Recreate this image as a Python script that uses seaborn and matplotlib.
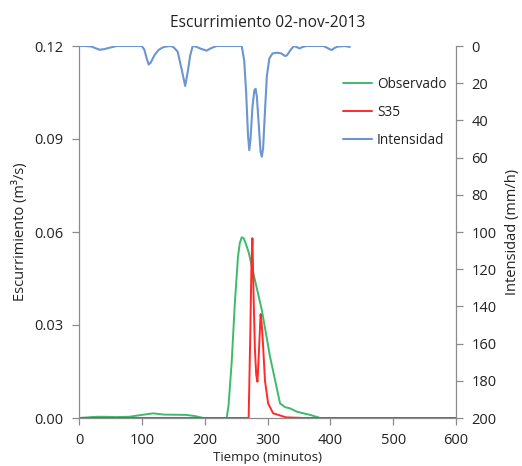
import matplotlib
matplotlib.use("Agg")
import matplotlib.pyplot as plt
import seaborn as sns
import pandas as pd

# ---- data ----
obs_t = [0, 28, 40, 60, 80, 100, 118, 135, 171, 185, 198, 235, 238, 243, 248, 253, 256, 259, 262, 265, 270,
         277.5, 291, 304, 320, 328, 336, 347, 368, 384, 600]
obs_q = [0, 0.0004, 0.0004, 0.0003, 0.0004, 0.0010, 0.0015, 0.0011, 0.0010, 0.0006, 0.0, 0.0, 0.004, 0.018,
         0.037, 0.052, 0.0565, 0.0583, 0.058, 0.0565, 0.0535,
         0.0467, 0.0348, 0.0198, 0.0047, 0.0035, 0.0031, 0.0020, 0.0010, 0.0, 0.0]

s35_t = [0, 270, 272.6, 274.5, 276, 278, 280, 282, 284, 286.5, 289, 290.5, 292.5, 296, 301, 309, 330, 360, 600]
s35_q = [0, 0.0, 0.027, 0.050, 0.058, 0.038, 0.022, 0.014, 0.0117, 0.022, 0.0335, 0.031, 0.025, 0.012,
         0.0047, 0.0015, 0.0002, 0.0, 0.0]

int_t = [0, 10, 20, 27, 33, 40, 50, 60, 80, 100, 104, 108, 111, 114, 120, 127, 135, 145, 150, 157, 163,
         169, 173, 177, 181, 186, 194, 203, 210, 219, 240, 259, 263, 266, 269, 271, 273, 276, 279, 281,
         283, 286, 289, 291, 293, 296, 299, 303, 308, 315, 322, 328, 331, 337, 342, 346, 351, 356, 362,
         389, 395, 402, 407, 412, 423, 431]
int_v = [0, 0, 0.3, 1.3, 2, 1.7, 0.8, 0, 0, 0, 2, 7, 10, 9, 5, 2, 0.5, 0, 0.5, 3, 12,
         21.5, 14, 5, 0, 0.3, 1.5, 2.5, 1.2, 0, 0, 0, 8, 25, 48, 56, 50, 33, 24, 23,
         27, 42, 57, 59.5, 55, 35, 16, 6.6, 4, 3.6, 4, 5.4, 5, 2, 0, 0.5, 1.3, 0.5, 0,
         0, 1, 2.2, 1, 0.3, 0, 0.5]

x_ticks = [0, 100, 200, 300, 400, 500, 600]
y_ticks = [0.00, 0.03, 0.06, 0.09, 0.12]
y2_ticks = [0, 20, 40, 60, 80, 100, 120, 140, 160, 180, 200]

title = "Escurrimiento 02-nov-2013"
xlabel = "Tiempo (minutos)"
ylabel = "Escurrimiento (m³/s)"
y2label = "Intensidad (mm/h)"

# ---- style ----
sns.set_style("white")
plt.rcParams["font.family"] = ["Open Sans", "DejaVu Sans"]
plt.rcParams["text.color"] = "#222222"
plt.rcParams["axes.labelcolor"] = "#222222"
plt.rcParams["xtick.color"] = "#222222"
plt.rcParams["ytick.color"] = "#222222"

green = "#3dbb6c"
red = "#ff2a2a"
blue = "#6b96cf"
gray = "#8c8c8c"

fig = plt.figure(figsize=(5.22, 4.66), dpi=100)
ax = fig.add_axes([79 / 522, 1 - 418 / 466, (456 - 79) / 522, (418 - 46) / 466])
ax2 = ax.twinx()

df_obs = pd.DataFrame({"t": obs_t, "q": obs_q})
df_s35 = pd.DataFrame({"t": s35_t, "q": s35_q})
df_int = pd.DataFrame({"t": int_t, "v": int_v})

sns.lineplot(data=df_obs, x="t", y="q", ax=ax, color=green, lw=1.4, label="Observado", legend=False)
sns.lineplot(data=df_s35, x="t", y="q", ax=ax, color=red, lw=1.4, label="S35", legend=False)
sns.lineplot(data=df_int, x="t", y="v", ax=ax2, color=blue, lw=1.5, label="Intensidad", legend=False)

ax.set_xlim(0, 600)
ax.set_ylim(0, 0.12)
ax2.set_ylim(200, 0)
ax.set_xticks(x_ticks)
ax.set_yticks(y_ticks)
ax.set_yticklabels([f"{v:.2f}" for v in y_ticks])
ax2.set_yticks(y2_ticks)
ax.set_xlim(0, 600)

for a in (ax, ax2):
    a.spines["top"].set_visible(False)
    for s in ("left", "right", "bottom"):
        a.spines[s].set_color(gray)
        a.spines[s].set_linewidth(0.9)
    a.tick_params(length=5, width=0.9, color=gray, labelsize=10.5, direction="out")
ax.spines["right"].set_visible(False)
ax2.spines["left"].set_visible(False)
ax2.spines["bottom"].set_visible(False)
ax.tick_params(axis="both", left=True, bottom=True, pad=6)
ax2.tick_params(axis="y", right=True, pad=6)

ax.set_xlabel(xlabel, fontsize=9.5, labelpad=2)
ax.set_ylabel(ylabel, fontsize=10.5, labelpad=5)
ax2.set_ylabel(y2label, fontsize=10.5, labelpad=6)
ax.set_title(title, fontsize=11.2, pad=14)

h1, l1 = ax.get_legend_handles_labels()
h2, l2 = ax2.get_legend_handles_labels()
ax2.legend(h1 + h2, l1 + l2, loc="upper left", bbox_to_anchor=(343 / 522, 1 - 77 / 466),
           bbox_transform=fig.transFigure, frameon=False, borderpad=0, borderaxespad=0,
           fontsize=9.8, handlelength=2.1, labelspacing=0.95, handletextpad=0.4)

fig.savefig("out.png", dpi=100)
